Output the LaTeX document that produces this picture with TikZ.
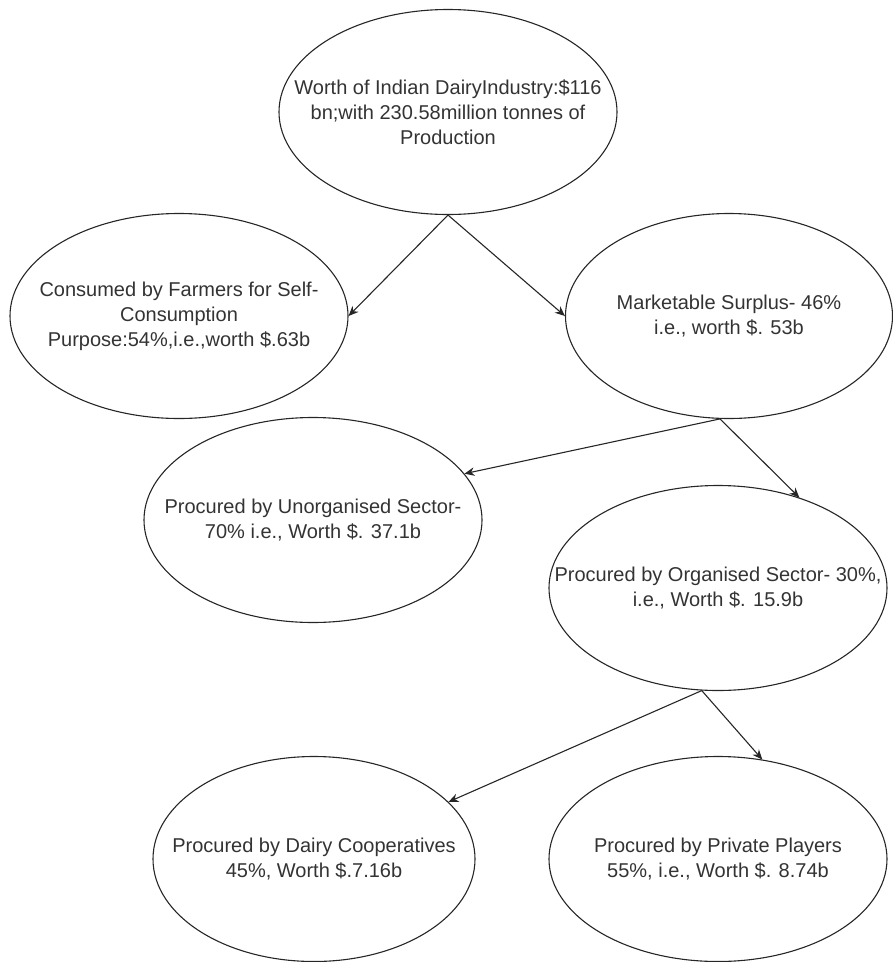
\documentclass[tikz,border=0pt]{standalone}
\usepackage{fontspec}
\setmainfont{Liberation Sans}
\usepackage{tikz}
\usetikzlibrary{shapes.geometric,arrows.meta}

\tikzset{
  bubble/.style={ellipse,draw=black!85,line width=1.1pt,inner sep=0pt,
    minimum width=338pt,minimum height=205pt},
  txt/.style={align=center,text=black!80,font=\fontsize{20}{25}\selectfont},
  link/.style={-{Stealth[length=10pt,width=8.5pt]},line width=1.1pt,draw=black!85}
}

\begin{document}
\begin{tikzpicture}[x=1pt,y=-1pt]
    \useasboundingbox (0,0) rectangle (893,962);

    \node[bubble,
      label={[txt]center:{Worth of Indian DairyIndustry:\$116\\ bn;with 230.58million tonnes of\\ Production}}
    ](W) at (448,112) {};

    \node[bubble,
      label={[txt]center:{Consumed by Farmers for Self-\\ Consumption\\ Purpose:54\%,i.e.,worth \$.63b}}
    ](C) at (179,316) {};

    \node[bubble, minimum width=327pt,
      label={[txt]center:{Marketable Surplus- 46\%\\ i.e., worth \$. 53b}}
    ](M) at (729,316) {};

    \node[bubble,
      label={[txt]center:{Procured by Unorganised Sector-\\ 70\% i.e., Worth \$. 37.1b}}
    ](U) at (313,520) {};

    \node[bubble,
      label={[txt]center:{Procured by Organised Sector- 30\%,\\ i.e., Worth \$. 15.9b}}
    ](O) at (718,588) {};

    \node[bubble, minimum width=322pt,
      label={[txt]center:{Procured by Dairy Cooperatives\\ 45\%, Worth \$.7.16b}}
    ](D) at (314,859) {};

    \node[bubble,
      label={[txt]center:{Procured by Private Players\\ 55\%, i.e., Worth \$. 8.74b}}
    ](P) at (718,859) {};

    \draw[link] (W.south) -- (C.east);
    \draw[link] (W.south) -- (M.west);

    \draw[link] (M.265) -- (U.17);
    \draw[link] (M.265) -- (O.48);

    \draw[link] (O.261) -- (D.23);
    \draw[link] (O.261) -- (P.66);

\end{tikzpicture}
\end{document}
